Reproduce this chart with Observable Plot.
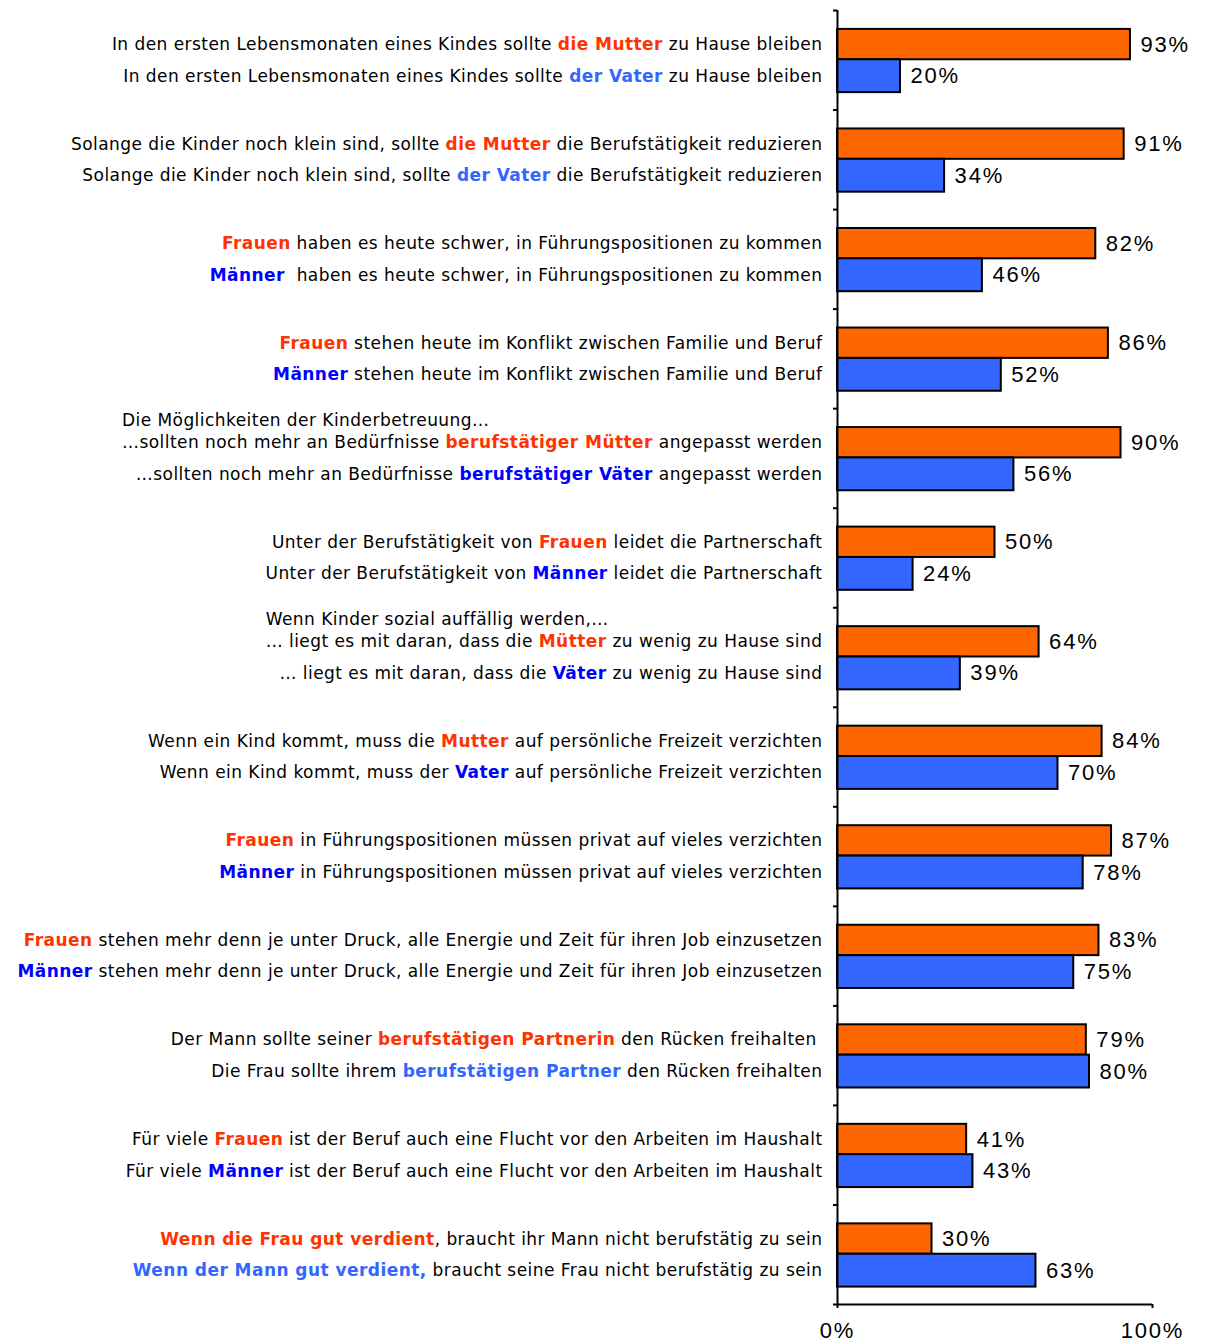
<!DOCTYPE html>
<html>
<head>
<meta charset="utf-8">
<script src="https://cdn.jsdelivr.net/npm/d3@7"></script>
<script src="https://cdn.jsdelivr.net/npm/@observablehq/plot@0.6"></script>
<style>
  html, body { margin: 0; padding: 0; background: #fff; }
  #chart svg { display: block; }
</style>
</head>
<body>
<div id="chart"></div>
<script>
// ---- data ----
const motherValues = [93, 91, 82, 86, 90, 50, 64, 84, 87, 83, 79, 41, 30];
const fatherValues = [20, 34, 46, 52, 56, 24, 39, 70, 78, 75, 80, 43, 63];

const motherLabels = [
  ["In den ersten Lebensmonaten eines Kindes sollte ", "die Mutter", " zu Hause bleiben"],
  ["Solange die Kinder noch klein sind, sollte ", "die Mutter", " die Berufstätigkeit reduzieren"],
  ["", "Frauen", " haben es heute schwer, in Führungspositionen zu kommen"],
  ["", "Frauen", " stehen heute im Konflikt zwischen Familie und Beruf"],
  ["…sollten noch mehr an Bedürfnisse ", "berufstätiger Mütter", " angepasst werden"],
  ["Unter der Berufstätigkeit von ", "Frauen", " leidet die Partnerschaft"],
  ["… liegt es mit daran, dass die ", "Mütter", " zu wenig zu Hause sind"],
  ["Wenn ein Kind kommt, muss die ", "Mutter", " auf persönliche Freizeit verzichten"],
  ["", "Frauen", " in Führungspositionen müssen privat auf vieles verzichten"],
  ["", "Frauen", " stehen mehr denn je unter Druck, alle Energie und Zeit für ihren Job einzusetzen"],
  ["Der Mann sollte seiner ", "berufstätigen Partnerin", " den Rücken freihalten "],
  ["Für viele ", "Frauen", " ist der Beruf auch eine Flucht vor den Arbeiten im Haushalt"],
  ["", "Wenn die Frau gut verdient", ", braucht ihr Mann nicht berufstätig zu sein"]
];
const fatherLabels = [
  ["In den ersten Lebensmonaten eines Kindes sollte ", "der Vater", " zu Hause bleiben"],
  ["Solange die Kinder noch klein sind, sollte ", "der Vater", " die Berufstätigkeit reduzieren"],
  ["", "Männer", "  haben es heute schwer, in Führungspositionen zu kommen"],
  ["", "Männer", " stehen heute im Konflikt zwischen Familie und Beruf"],
  ["…sollten noch mehr an Bedürfnisse ", "berufstätiger Väter", " angepasst werden"],
  ["Unter der Berufstätigkeit von ", "Männer", " leidet die Partnerschaft"],
  ["… liegt es mit daran, dass die ", "Väter", " zu wenig zu Hause sind"],
  ["Wenn ein Kind kommt, muss der ", "Vater", " auf persönliche Freizeit verzichten"],
  ["", "Männer", " in Führungspositionen müssen privat auf vieles verzichten"],
  ["", "Männer", " stehen mehr denn je unter Druck, alle Energie und Zeit für ihren Job einzusetzen"],
  ["Die Frau sollte ihrem ", "berufstätigen Partner", " den Rücken freihalten"],
  ["Für viele ", "Männer", " ist der Beruf auch eine Flucht vor den Arbeiten im Haushalt"],
  ["", "Wenn der Mann gut verdient,", " braucht seine Frau nicht berufstätig zu sein"]
];
const motherHighlightColors = Array(13).fill("#FF3300");
const fatherHighlightColors = ["#3366FF", "#3366FF", "#0000FF", "#0000FF", "#0000FF", "#0000FF", "#0000FF",
  "#0000FF", "#0000FF", "#0000FF", "#3366FF", "#0000FF", "#3366FF"];

const headerGroups = [4, 6];
const headerTexts = ["Die Möglichkeiten der Kinderbetreuung…", "Wenn Kinder sozial auffällig werden,…"];

const xTicks = [0, 100];

// ---- tables ----
const mother = motherValues.map((v, g) => ({g, value: v, parts: motherLabels[g], color: motherHighlightColors[g]}));
const father = fatherValues.map((v, g) => ({g, value: v, parts: fatherLabels[g], color: fatherHighlightColors[g]}));
const headers = headerGroups.map((g, i) => ({g, text: headerTexts[i]}));

const ORANGE = "#FF6600", BLUE = "#3366FF";
const VAL_FONT = "Liberation Sans";

const svg = Plot.plot({
  width: 1205,
  height: 1344,
  marginTop: 10,
  marginBottom: 40,
  marginLeft: 837,
  marginRight: 53,
  x: {domain: [0, 100], label: null},
  y: {domain: [0, 13], reverse: true, label: null},
  style: {fontFamily: "DejaVu Sans", fontSize: "17px", color: "#000", background: "#fff"},
  marks: [
    Plot.rectX(mother, {x1: 0, x2: "value", y1: d => d.g + 0.19, y2: d => d.g + 0.495,
      fill: ORANGE, stroke: "#000", strokeWidth: 2}),
    Plot.rectX(father, {x1: 0, x2: "value", y1: d => d.g + 0.495, y2: d => d.g + 0.825,
      fill: BLUE, stroke: "#000", strokeWidth: 2}),
    Plot.ruleX([0], {stroke: "#000", strokeWidth: 2}),
    Plot.ruleY([13], {stroke: "#000", strokeWidth: 2}),
    Plot.axisY({ticks: d3.range(0, 14), tickSize: 4, tickFormat: () => "", strokeWidth: 2, label: null}),
    Plot.axisX({ticks: xTicks, tickSize: 4, tickPadding: 14, tickFormat: d => d + "%",
      fontSize: 22, fontFamily: VAL_FONT, strokeWidth: 2, label: null}),
    // text marks (order matters for post-processing)
    Plot.text(mother, {x: 0, y: d => d.g + 0.3425, text: d => d.parts.join(""), textAnchor: "end",
      dx: -15, fill: "#000"}),
    Plot.text(father, {x: 0, y: d => d.g + 0.66, text: d => d.parts.join(""), textAnchor: "end",
      dx: -15, fill: "#000"}),
    Plot.text(headers, {x: 0, y: d => d.g + 0.12, text: "text", textAnchor: "start", fill: "#000"}),
    Plot.text(mother, {x: "value", y: d => d.g + 0.3425, text: d => d.value + "%", textAnchor: "start",
      dx: 10, fontSize: 22, fontFamily: VAL_FONT, fill: "#000"}),
    Plot.text(father, {x: "value", y: d => d.g + 0.66, text: d => d.value + "%", textAnchor: "start",
      dx: 10, fontSize: 22, fontFamily: VAL_FONT, fill: "#000"})
  ]
});

document.getElementById("chart").appendChild(svg);

const NS = "http://www.w3.org/2000/svg";
const textGroups = svg.querySelectorAll('g[aria-label="text"]');
const LABEL_SPACING = "0.45px";

function richify(group, rows) {
  const texts = group.querySelectorAll("text");
  texts.forEach((t, i) => {
    const row = rows[i];
    const [pre, hi, post] = row.parts;
    t.textContent = "";
    t.style.whiteSpace = "pre";
    t.style.letterSpacing = LABEL_SPACING;
    const a = document.createElementNS(NS, "tspan"); a.textContent = pre; t.appendChild(a);
    const b = document.createElementNS(NS, "tspan"); b.textContent = hi;
    b.setAttribute("font-weight", "bold"); b.setAttribute("fill", row.color); t.appendChild(b);
    const c = document.createElementNS(NS, "tspan"); c.textContent = post; t.appendChild(c);
  });
  return texts;
}
const mTexts = richify(textGroups[0], mother);
richify(textGroups[1], father);

[textGroups[3], textGroups[4]].forEach(g => g.querySelectorAll("text").forEach(t => {
  t.style.letterSpacing = "1.8px";
}));
svg.querySelectorAll('g[aria-label="x-axis tick label"] text').forEach(t => {
  t.style.letterSpacing = "1.8px";
});

// align headers with the start of the following label line
textGroups[2].querySelectorAll("text").forEach((t, i) => {
  t.style.letterSpacing = LABEL_SPACING;
  const target = mTexts[headers[i].g];
  const delta = target.getBoundingClientRect().left - t.getBoundingClientRect().left;
  const tr = t.getAttribute("transform") || "";
  t.setAttribute("transform", `translate(${delta},0) ` + tr);
});
</script>
</body>
</html>
